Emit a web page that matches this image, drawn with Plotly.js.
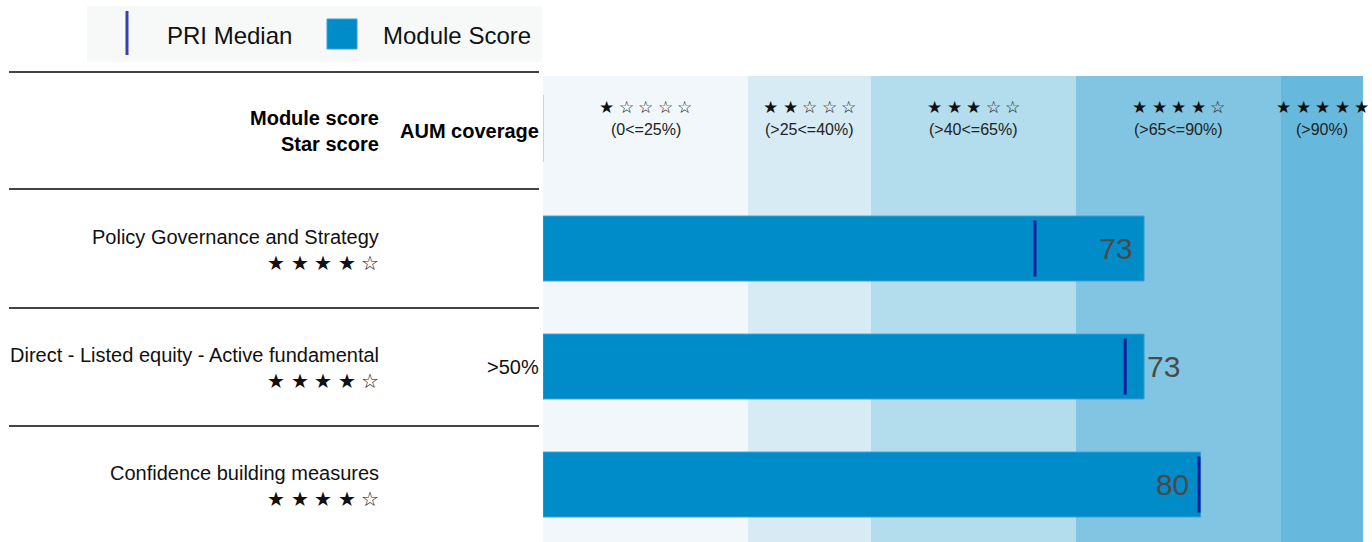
<!DOCTYPE html>
<html>
<head>
<meta charset="utf-8">
<script src="https://cdn.plot.ly/plotly-3.0.1.min.js"></script>
<style>html,body{margin:0;padding:0;background:#fff;}#chart{width:1372px;height:542px;}</style>
</head>
<body>
<div id="chart"></div>
<script>
// ---- data ----
const modules = ["Policy Governance and Strategy", "Direct - Listed equity - Active fundamental", "Confidence building measures"];
const moduleScores = [73.3, 73.3, 80.2];
const priMedians = [60, 71, 80];
const starScores = [4, 4, 4];
const aumCoverage = ["", "&gt;50%", ""];
const bandEdges = [0, 25, 40, 65, 90, 100];
const bandStars = [1, 2, 3, 4, 5];
const bandLabels = ["(0&lt;=25%)", "(&gt;25&lt;=40%)", "(&gt;40&lt;=65%)", "(&gt;65&lt;=90%)", "(&gt;90%)"];
const bandColors = ["#f1f7fb", "#d7ebf5", "#b3dced", "#81c5e3", "#66b8dd"];

// ---- layout helpers ----
const W = 1372, H = 542;
const px = x => x / W;
const py = y => 1 - y / H;
const FONT = '"Liberation Sans", Arial, sans-serif';
const starStr = (n, total) => Array.from({length: total}, (_, i) => i < n ? '★' : '☆').join(' ');
const rows = [1, 2, 3];

const traces = [
  {
    type: 'bar', orientation: 'h',
    y: rows, x: moduleScores, width: 0.55,
    marker: {color: '#008bc9', line: {color: '#3a9fd2', width: 1}},
    texttemplate: ['%{x:.0f}\u00a0', '%{x:.0f}', '%{x:.0f}\u00a0'],
    textposition: ['inside', 'outside', 'inside'],
    insidetextanchor: 'end',
    textfont: {family: FONT, size: 30, color: '#4a4a4a'},
    cliponaxis: false,
    hoverinfo: 'skip', showlegend: false
  },
  {
    type: 'scatter', mode: 'markers',
    y: rows, x: priMedians,
    marker: {symbol: 'line-ns', size: 40, line: {color: '#0a1f9a', width: 3}},
    hoverinfo: 'skip', showlegend: false
  }
];

const shapes = [];
const annotations = [];

// rating bands
for (let i = 0; i < bandColors.length; i++) {
  shapes.push({type: 'rect', xref: 'x', yref: 'paper', x0: bandEdges[i], x1: bandEdges[i + 1],
    y0: 0, y1: 466 / H, fillcolor: bandColors[i], line: {width: 0}, layer: 'below'});
  const mid = (bandEdges[i] + bandEdges[i + 1]) / 2;
  annotations.push({xref: 'x', yref: 'paper', x: mid, y: py(107), text: starStr(bandStars[i], 5),
    showarrow: false, xanchor: 'center', yanchor: 'middle', font: {family: FONT, size: 16.5, color: '#111'}});
  annotations.push({xref: 'x', yref: 'paper', x: mid, y: py(130), text: bandLabels[i],
    showarrow: false, xanchor: 'center', yanchor: 'middle', font: {family: FONT, size: 16, color: '#222'}});
}
// faint header divider at plot start
shapes.push({type: 'line', xref: 'paper', yref: 'paper', x0: px(543.5), x1: px(543.5), y0: py(95), y1: py(162),
  line: {color: '#c5d6de', width: 1}});

// table lines
[72, 189, 308, 426].forEach(y => shapes.push({type: 'line', xref: 'paper', yref: 'paper',
  x0: px(9), x1: px(539), y0: py(y), y1: py(y), line: {color: '#444', width: 2}}));

// header
annotations.push({xref: 'paper', yref: 'paper', x: px(381), y: py(118), text: '<b>Module score</b>', showarrow: false,
  xanchor: 'right', yanchor: 'middle', font: {family: FONT, size: 20, color: '#000'}});
annotations.push({xref: 'paper', yref: 'paper', x: px(381), y: py(144), text: '<b>Star score</b>', showarrow: false,
  xanchor: 'right', yanchor: 'middle', font: {family: FONT, size: 20, color: '#000'}});
annotations.push({xref: 'paper', yref: 'paper', x: px(541), y: py(131), text: '<b>AUM coverage</b>', showarrow: false,
  xanchor: 'right', yanchor: 'middle', font: {family: FONT, size: 20, color: '#000'}});

// rows
const rowCenters = [248.5, 366.5, 484.5];
modules.forEach((m, i) => {
  const c = rowCenters[i];
  annotations.push({xref: 'paper', yref: 'paper', x: px(381), y: py(c - 12), text: m, showarrow: false,
    xanchor: 'right', yanchor: 'middle', font: {family: FONT, size: 20, color: '#111'}});
  annotations.push({xref: 'paper', yref: 'paper', x: px(381), y: py(c + 14), text: starStr(starScores[i], 5), showarrow: false,
    xanchor: 'right', yanchor: 'middle', font: {family: FONT, size: 20, color: '#111'}});
  if (aumCoverage[i]) {
    annotations.push({xref: 'paper', yref: 'paper', x: px(541), y: py(c), text: aumCoverage[i], showarrow: false,
      xanchor: 'right', yanchor: 'middle', font: {family: FONT, size: 20, color: '#111'}});
  }
});

// custom legend
shapes.push({type: 'rect', xref: 'paper', yref: 'paper', x0: px(87), x1: px(542), y0: py(62), y1: py(6),
  fillcolor: '#f7f9f9', line: {width: 0}, layer: 'below'});
shapes.push({type: 'line', xref: 'paper', yref: 'paper', x0: px(127), x1: px(127), y0: py(55), y1: py(11),
  line: {color: '#3a40a8', width: 3}});
shapes.push({type: 'rect', xref: 'paper', yref: 'paper', x0: px(327), x1: px(357), y0: py(49), y1: py(19),
  fillcolor: '#008bc9', line: {color: '#3a9fd2', width: 1}});
annotations.push({xref: 'paper', yref: 'paper', x: px(165), y: py(35), text: 'PRI Median', showarrow: false,
  xanchor: 'left', yanchor: 'middle', font: {family: FONT, size: 24, color: '#111'}});
annotations.push({xref: 'paper', yref: 'paper', x: px(381), y: py(35), text: 'Module Score', showarrow: false,
  xanchor: 'left', yanchor: 'middle', font: {family: FONT, size: 24, color: '#111'}});

const layout = {
  width: W, height: H,
  margin: {l: 0, r: 0, t: 0, b: 0},
  paper_bgcolor: '#fff', plot_bgcolor: 'rgba(0,0,0,0)',
  showlegend: false,
  barmode: 'overlay',
  xaxis: {domain: [px(543), px(1363)], range: [0, 100], visible: false, fixedrange: true},
  yaxis: {domain: [0, 466 / H], range: [3.487, -0.462], visible: false, fixedrange: true},
  shapes: shapes,
  annotations: annotations,
  font: {family: FONT}
};

Plotly.newPlot('chart', traces, layout, {displayModeBar: false, staticPlot: true});
</script>
</body>
</html>
